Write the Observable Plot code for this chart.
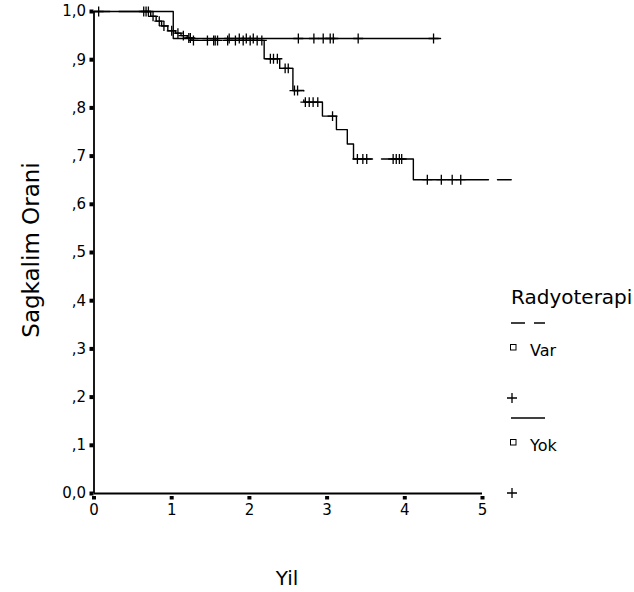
<!DOCTYPE html>
<html>
<head>
<meta charset="utf-8">
<script src="https://cdn.jsdelivr.net/npm/d3@7"></script>
<script src="https://cdn.jsdelivr.net/npm/@observablehq/plot@0.6"></script>
<style>
  html, body { margin: 0; padding: 0; background: #fff; }
  #chart { width: 634px; height: 592px; }
</style>
</head>
<body>
<div id="chart"></div>
<script>
// ---- Data ----
// Group "Var" (dashed): step times and survival after each step
const varStepTimes = [0, 0.73, 0.80, 0.87, 0.95, 1.05, 1.12, 1.20, 1.26, 2.19, 2.39, 2.56, 2.70, 2.94, 3.12, 3.26, 3.34, 4.11];
const varStepSurv  = [1.0, 0.99, 0.98, 0.97, 0.96, 0.955, 0.95, 0.945, 0.94, 0.902, 0.882, 0.836, 0.812, 0.783, 0.755, 0.725, 0.694, 0.651];
const varEndTime = 5.37;
const varCensorTimes = [0.64, 0.67, 0.70, 0.76, 0.84, 0.90, 1.00, 1.08, 1.15, 1.22, 1.24, 1.28, 1.46, 1.54, 1.56, 1.59, 1.72, 1.82, 1.92, 2.01, 2.10, 2.16, 2.27, 2.31, 2.36, 2.46, 2.50, 2.58, 2.62, 2.72, 2.77, 2.82, 2.88, 3.07, 3.39, 3.46, 3.51, 3.85, 3.89, 3.93, 3.96, 4.29, 4.47, 4.61, 4.72];

// Group "Yok" (solid)
const yokStepTimes = [0, 1.02];
const yokStepSurv  = [1.0, 0.944];
const yokEndTime = 4.46;
const yokCensorTimes = [0.06, 1.74, 1.87, 1.96, 2.05, 2.63, 2.83, 2.95, 3.04, 3.08, 3.40, 4.37];

const xTicks = [0, 1, 2, 3, 4, 5];
const yTicks = [0, 0.1, 0.2, 0.3, 0.4, 0.5, 0.6, 0.7, 0.8, 0.9, 1.0];
const yTickLabels = ["0,0", ",1", ",2", ",3", ",4", ",5", ",6", ",7", ",8", ",9", "1,0"];

const legendTitle = "Radyoterapi";
const groupNames = ["Var", "Yok"];
const yTitle = "Sagkalim Orani";
const xTitle = "Yil";

// ---- Build tables ----
function stepRows(times, surv, end) {
  const rows = times.map((t, i) => ({t, s: surv[i]}));
  rows.push({t: end, s: surv[surv.length - 1]});
  return rows;
}
function survAt(times, surv, t) {
  let s = surv[0];
  for (let i = 0; i < times.length; i++) if (times[i] <= t) s = surv[i];
  return s;
}
const varRows = stepRows(varStepTimes, varStepSurv, varEndTime);
const yokRows = stepRows(yokStepTimes, yokStepSurv, yokEndTime);
const censors = [
  ...varCensorTimes.map(t => ({t, s: survAt(varStepTimes, varStepSurv, t)})),
  ...yokCensorTimes.map(t => ({t, s: survAt(yokStepTimes, yokStepSurv, t)}))
];

const font = "DejaVu Sans, Liberation Sans, Arial, sans-serif";

const chart = Plot.plot({
  width: 634,
  height: 592,
  marginLeft: 93.5,
  marginRight: 152,
  marginTop: 11,
  marginBottom: 99,
  style: {fontFamily: font, fontSize: "15px", color: "black", background: "white", overflow: "visible"},
  x: {domain: [0, 5], label: null},
  y: {domain: [0, 1], label: null},
  marks: [
    Plot.line(yokRows, {x: "t", y: "s", curve: "step-after", stroke: "black", strokeWidth: 1.4}),
    Plot.line(varRows, {x: "t", y: "s", curve: "step-after", stroke: "black", strokeWidth: 1.4,
      strokeDasharray: "127.7 9", strokeDashoffset: 111.8}),
    Plot.dot(censors, {x: "t", y: "s", symbol: "plus", r: 3.3, stroke: "black", strokeWidth: 1.3}),
    Plot.ruleX([0], {stroke: "black", strokeWidth: 1.8}),
    Plot.ruleY([0], {stroke: "black", strokeWidth: 1.8}),
    Plot.axisY({ticks: yTicks, tickSize: 4, strokeWidth: 4, tickFormat: () => ""}),
    Plot.axisY({ticks: yTicks, tickSize: 0, tickPadding: 8, fontSize: 15,
      tickFormat: d => yTickLabels[Math.round(d * 10)]}),
    Plot.axisX({ticks: xTicks, tickSize: 3.5, strokeWidth: 4, dy: 3, tickFormat: () => ""}),
    Plot.axisX({ticks: xTicks, tickSize: 0, tickPadding: 11, fontSize: 15, tickFormat: d => String(d)})
  ]
});

document.getElementById("chart").appendChild(chart);

// ---- Titles and legend ----
const svg = d3.select(chart);
svg.append("text").attr("transform", "translate(39,250) rotate(-90)")
  .attr("text-anchor", "middle").attr("font-family", font).attr("font-size", 23)
  .attr("fill", "black").text(yTitle);
svg.append("text").attr("x", 287).attr("y", 585)
  .attr("text-anchor", "middle").attr("font-family", font).attr("font-size", 20)
  .attr("fill", "black").text(xTitle);

const lg = svg.append("g").attr("font-family", font).attr("fill", "black").attr("text-anchor", "start");
lg.append("text").attr("x", 511).attr("y", 304).attr("font-size", 20).text(legendTitle);
const rows = [
  {dash: "14 9", y0: 323, label: groupNames[0]},
  {dash: null, y0: 418, label: groupNames[1]}
];
rows.forEach(r => {
  lg.append("line").attr("x1", 511).attr("x2", 545).attr("y1", r.y0).attr("y2", r.y0)
    .attr("stroke", "black").attr("stroke-width", 1.3).attr("stroke-dasharray", r.dash);
  lg.append("rect").attr("x", 510.5).attr("y", r.y0 + 21.5).attr("width", 5.5).attr("height", 5.5)
    .attr("fill", "none").attr("stroke", "black").attr("stroke-width", 1);
  lg.append("text").attr("x", 530).attr("y", r.y0 + 33).attr("font-size", 16).text(r.label);
  lg.append("path").attr("d", `M${507},${r.y0 + 75}h10M${512},${r.y0 + 70}v10`)
    .attr("stroke", "black").attr("stroke-width", 1.3).attr("fill", "none");
});
</script>
</body>
</html>
